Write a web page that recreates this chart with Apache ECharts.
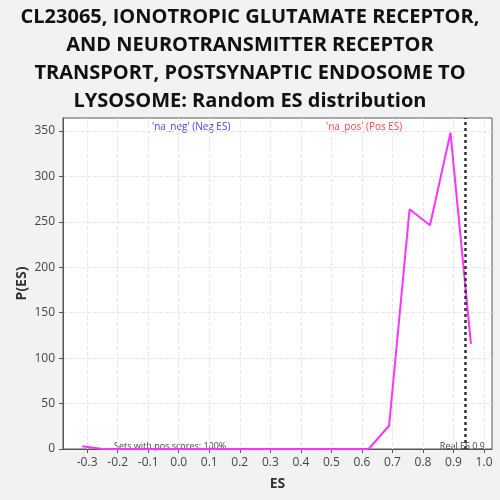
<!DOCTYPE html>
<html><head><meta charset="utf-8">
<script src="https://cdn.jsdelivr.net/npm/echarts@6/dist/echarts.min.js"></script>
<style>html,body{margin:0;padding:0;background:#f2f2f2}#c{width:500px;height:500px}</style>
</head><body><div id="c"></div>
<script>
const esValues = [-0.316, -0.249, -0.182, -0.115, -0.048, 0.019, 0.086, 0.153, 0.220, 0.287, 0.354, 0.421, 0.488, 0.555, 0.622, 0.689, 0.756, 0.823, 0.890, 0.957];
const pValues = [3, 0, 0, 0, 0, 0, 0, 0, 0, 0, 0, 0, 0, 0, 0, 25.6, 263.8, 246.2, 348.1, 115.6];
const xTicks = [-0.3, -0.2, -0.1, 0.0, 0.1, 0.2, 0.3, 0.4, 0.5, 0.6, 0.7, 0.8, 0.9, 1.0];
const yTicks = [0, 50, 100, 150, 200, 250, 300, 350];
const realES = 0.943;
const titleText = "CL23065, IONOTROPIC GLUTAMATE RECEPTOR,\nAND NEUROTRANSMITTER RECEPTOR\nTRANSPORT, POSTSYNAPTIC ENDOSOME TO\nLYSOSOME: Random ES distribution";

const font = "'Open Sans', 'Noto Sans', sans-serif";
const chart = echarts.init(document.getElementById('c'));
chart.setOption({
  backgroundColor: '#f2f2f2',
  animation: false,
  title: {
    text: titleText, left: 'center', top: -2,
    textStyle: {fontFamily: font, fontWeight: 'bold', fontSize: 20, lineHeight: 28, color: '#111'}
  },
  grid: {left: 63, right: 8, top: 118, bottom: 51, show: true, backgroundColor: '#fff', borderColor: '#555', borderWidth: 1},
  xAxis: {
    type: 'value', min: -0.379, max: 1.026,
    name: 'ES', nameLocation: 'middle', nameGap: 28, nameMoveOverlap: false,
    nameTextStyle: {fontFamily: font, fontWeight: 'bold', fontSize: 14, color: '#333'},
    axisLine: {show: true, onZero: false, lineStyle: {color: '#555'}},
    axisTick: {show: true, customValues: xTicks, length: 4, lineStyle: {color: '#555'}},
    axisLabel: {customValues: xTicks, fontFamily: font, fontSize: 12, color: '#444', formatter: v => v.toFixed(1)},
    splitLine: {show: true, lineStyle: {type: 'dashed', color: '#e6e6e6'}}
  },
  yAxis: {
    type: 'value', min: 0, max: 364.3,
    name: 'P(ES)', nameLocation: 'middle', nameGap: 34, nameMoveOverlap: false,
    nameTextStyle: {fontFamily: font, fontWeight: 'bold', fontSize: 14, color: '#333'},
    axisLine: {show: true, onZero: false, lineStyle: {color: '#555'}},
    axisTick: {show: true, customValues: yTicks, length: 4, lineStyle: {color: '#555'}},
    axisLabel: {customValues: yTicks, fontFamily: font, fontSize: 12, color: '#444'},
    splitLine: {show: true, lineStyle: {type: 'dashed', color: '#e6e6e6'}}
  },
  series: [
    {
      type: 'line', data: esValues.map((x, i) => [x, pValues[i]]),
      symbol: 'none', lineStyle: {color: '#ff33ff', width: 2}, z: 3
    },
    {
      type: 'line', data: [], symbol: 'none',
      markLine: {
        silent: true, symbol: 'none',
        lineStyle: {color: '#333', type: [3, 3], width: 2.5},
        label: {show: false},
        data: [{xAxis: realES}]
      }
    }
  ],
  graphic: [
    {type: 'text', left: 152, top: 122, style: {text: "'na_neg' (Neg ES)", fill: '#4444ee', font: "10px " + font}},
    {type: 'text', left: 326, top: 122, style: {text: "'na_pos' (Pos ES)", fill: '#ff4444', font: "10px " + font}},
    {type: 'text', left: 114, top: 442, style: {text: "Sets with pos scores: 100%", fill: '#444', font: "9px " + font}},
    {type: 'text', right: 15, top: 442, style: {text: "Real ES 0.9", fill: '#444', font: "9px " + font}}
  ]
});
</script></body></html>
